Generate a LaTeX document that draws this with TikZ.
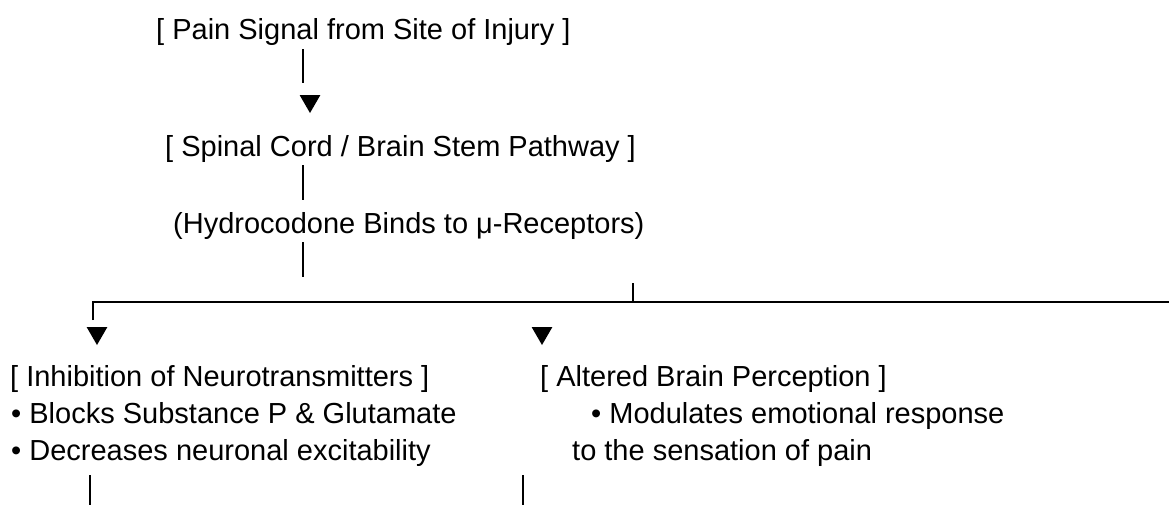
\documentclass[tikz,border=0pt]{standalone}
\usepackage{fontspec}
\setmainfont{Liberation Sans}
\usetikzlibrary{positioning,shapes.geometric}
\definecolor{pwInk}  {HTML}{000000}
\definecolor{pwPaper}{HTML}{FFFFFF}

\tikzset{
  pwText/.style={anchor=base west,inner sep=0pt,text=pwInk,
                 font=\fontsize{29}{35}\selectfont},
  pwBar/.style={draw=pwInk,line width=2.7pt},
  pwTip/.style={regular polygon,regular polygon sides=3,shape border rotate=180,
                fill=pwInk,inner sep=0pt,minimum size=24pt}
}

\begin{document}
\begin{tikzpicture}[x=1pt,y=-1pt]
  \fill[pwPaper] (0,0) rectangle (1169,504);
  \useasboundingbox (0,0) rectangle (1169,504);

  \node[pwText] (pain)   at (156,39)  {[ Pain Signal from Site of Injury ]};
  \node[pwText] (spinal) at (165,156) {[ Spinal Cord / Brain Stem Pathway ]};
  \node[pwText] (hydro)  at (173,233) {(Hydrocodone Binds to μ-Receptors)};

  \node[pwText] (inhib)  at (10,386)  {[ Inhibition of Neurotransmitters ]};
  \node[pwText] (blocks) at (11,423)  {• Blocks Substance P \& Glutamate};
  \node[pwText] (decr)   at (11,460)  {• Decreases neuronal excitability};

  \node[pwText] (alter)  at (540,386) {[ Altered Brain Perception ]};
  \node[pwText] (modul)  at (591,423) {• Modulates emotional response};
  \node[pwText] (sens)   at (572,460) {to the sensation of pain};

  \node[pwTip] (tipSpinal) at (310,101) {};
  \node[pwTip] (tipInhib)  at (97,333)  {};
  \node[pwTip] (tipAlter)  at (542,333) {};

  \coordinate (barA) at (303,49);
  \coordinate (barB) at (303,165);
  \coordinate (barC) at (303,242);
  \coordinate (joint) at (633,302);
  \coordinate (corner) at (93,302);
  \coordinate (railEnd) at (1175,302);
  \coordinate (legInhib) at (90,475);
  \coordinate (legAlter) at (523,475);

  \draw[pwBar] (barA) -- ++(0,34);
  \draw[pwBar] (barB) -- ++(0,35);
  \draw[pwBar] (barC) -- ++(0,35);
  \draw[pwBar] (joint) -- ++(0,-19);
  \draw[pwBar,line join=miter] (corner) ++(0,18) -- (corner) -- (railEnd);
  \draw[pwBar] (legInhib) -- ++(0,32);
  \draw[pwBar] (legAlter) -- ++(0,32);
\end{tikzpicture}
\end{document}
